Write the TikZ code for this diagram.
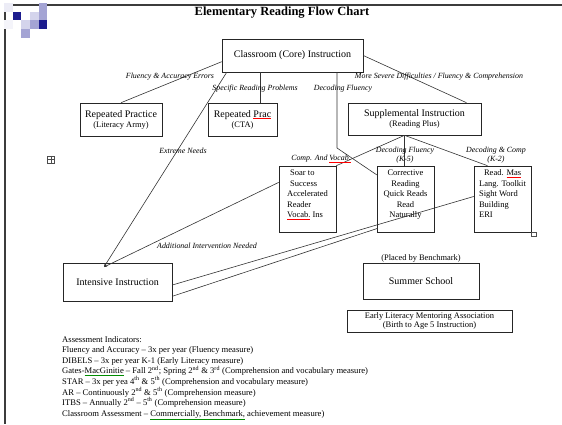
\documentclass[tikz,border=0pt]{standalone}
\usepackage{fontspec}
\setmainfont{Liberation Serif}
\usetikzlibrary{calc,arrows.meta}
\definecolor{sqdark}{HTML}{1C1C8E}
\definecolor{sqmid}{HTML}{A4A4D4}
\definecolor{sqlight}{HTML}{D4D4EC}
\definecolor{sqfaint}{HTML}{ECECF6}
\definecolor{framegray}{HTML}{3C3C3C}
\newcommand\redmark[1]{\textcolor{red}{$\underline{\hbox{\color{black}#1}}$}}
\newcommand\greenmark[1]{\textcolor{green!55!black}{$\underline{\hbox{\color{black}#1}}$}}
\newcommand\subsize{\fontsize{8.4}{9.5}\selectfont}
\begin{document}
\begin{tikzpicture}[x=1pt,y=-1pt,
  box/.style={draw=black!85, line width=0.6pt, inner sep=0pt, align=center,
    font=\fontsize{10}{11}\selectfont},
  stackbox/.style={draw=black!85, line width=0.6pt, inner sep=0pt,
    minimum width=57pt, minimum height=66pt},
  stacktext/.style={inner sep=0pt, font=\fontsize{8.5}{10.5}\selectfont, anchor=north},
  lbl/.style={inner sep=0pt, align=center, font=\fontsize{7.9}{8.6}\selectfont\itshape},
  link/.style={draw=black!80, line width=0.6pt},
  tip/.style={-{Stealth[length=3pt,width=2.5pt]}},
]
\useasboundingbox (0,0) rectangle (562,424);

% slide frame
\draw[framegray, line width=1.4pt] (562,5) -- (5,5) -- (5,424);

% corner squares
\fill[sqfaint] (4.2,3.2) rectangle (12.8,11.8);
\fill[sqfaint!60] (4.2,20.4) rectangle (12.8,29);
\fill[sqmid]   (38.6,3.2) rectangle (47.2,11.8);
\fill[sqdark]  (12.8,11.8) rectangle (21.4,20.4);
\fill[sqlight] (30,11.8) rectangle (38.6,20.4);
\fill[sqmid]   (38.6,11.8) rectangle (47.2,20.4);
\fill[sqlight] (21.4,20.4) rectangle (30,29);
\fill[sqmid]   (30,20.4) rectangle (38.6,29);
\fill[sqdark]  (38.6,20.4) rectangle (47.2,29);
\fill[sqmid]   (21.4,29) rectangle (30,37.6);

% title
\node[inner sep=0pt, font=\fontsize{12.5}{14}\selectfont\bfseries] (title) at (282,13) {Elementary Reading Flow Chart};

% main boxes
\node[box, minimum width=141pt, minimum height=33pt] (core) at (292.5,55.5) {Classroom (Core) Instruction};
\node[box, minimum width=82pt, minimum height=33pt] (rpla) at (121,119.5) {Repeated Practice\\[-1pt]{\subsize (Literacy Army)}};
\node[box, minimum width=69pt, minimum height=33pt] (rpcta) at (242.5,119.5) {Repeated \redmark{Prac}\\[-1pt]{\subsize (CTA)}};
\node[box, minimum width=133pt, minimum height=32pt] (supp) at (414.5,119) {Supplemental Instruction\\[-1pt]{\subsize (Reading Plus)}};

% program boxes
\node[stackbox] (soar) at (307.5,199) {};
\node[stacktext, align=left] (soarT) at ($(soar.north)+(0,4)$) {\hspace{3pt}Soar to\\\hspace{3pt}Success\\Accelerated\\Reader\\\redmark{Vocab.} Ins};
\node[stackbox] (corr) at (405.5,199) {};
\node[stacktext, align=center] (corrT) at ($(corr.north)+(0,4)$) {Corrective\\Reading\\Quick Reads\\Read\\Naturally};
\node[stackbox] (rmas) at (502.5,199) {};
\node[stacktext, align=left] (rmasT) at ($(rmas.north)+(0,4)$) {\hspace{5pt}Read. \redmark{Mas}\\Lang. Toolkit\\Sight Word\\Building\\ERI};

% lower boxes
\node[box, minimum width=109pt, minimum height=38pt] (intensive) at (117.5,282) {Intensive Instruction};
\node[box, minimum width=116pt, minimum height=36pt] (summer) at (421,281) {Summer School};
\node[inner sep=0pt, font=\fontsize{8.4}{9}\selectfont] (placed) at (421,258) {(Placed by Benchmark)};
\node[box, minimum width=165pt, minimum height=22pt, font=\fontsize{8.5}{9.5}\selectfont] (elma) at (429.5,321) {Early Literacy Mentoring Association\\(Birth to Age 5 Instruction)};

% small handles
\node[draw=black!70, line width=0.4pt, minimum size=7pt, inner sep=0pt] (handle) at (51,159.5) {};
\draw[black!70, line width=0.4pt] (handle.north) -- (handle.south) (handle.west) -- (handle.east);
\node[draw=black!70, fill=white, line width=0.4pt, minimum size=4.5pt, inner sep=0pt] (corner) at (533.5,234) {};

% connector ends
\coordinate (ii) at (104,267);
\coordinate (sj) at ($(supp.south)+(-10,0)$);
\coordinate (bend) at (337,148);

% connectors
\draw[link] (core.185) -- (rpla.north);
\draw[link, tip] ($(core.south west)+(5,0)$) -- (ii);
\draw[link] (core.south -| 260,0) -- (rpcta.north -| 260,0);
\draw[link] (core.south -| bend) -- (bend) -- (corr.140);
\draw[link] (core.east) -- ($(supp.north)+(52,0)$);
\draw[link] (sj) -- (soar.north east);
\draw[link] (sj) -- (sj |- corr.north);
\draw[link] (sj) -- ($(rmas.north)+(-15,0)$);
\draw[link, tip] (soar.150) -- (ii);
\draw[link] ($(intensive.east)+(0,3)$) -- (rmas.175);
\draw[link] ($(intensive.south east)+(0,-5)$) -- ($(corr.south west)+(1,-4)$);

% connector labels
\node[lbl] (l1) at (170,77) {Fluency \& Accuracy Errors};
\node[lbl] (l2) at (255,89) {Specific Reading Problems};
\node[lbl] (l3) at (343,89) {Decoding Fluency};
\node[lbl] (l4) at (439,77) {More Severe Difficulties / Fluency \& Comprehension};
\node[lbl] (l5) at (183,151) {Extreme Needs};
\node[lbl] (l6) at (321,159) {Comp. And \redmark{Vocab.}};
\node[lbl] (l7) at (405,155) {Decoding Fluency\\(K-5)};
\node[lbl] (l8) at (496,155) {Decoding \& Comp\\(K-2)};
\node[lbl] (l9) at (207,246) {Additional Intervention Needed};

% assessment notes
\node[inner sep=0pt, anchor=north west, align=left, font=\fontsize{8.6}{10.6}\selectfont] (notes) at (62,336) {%
Assessment Indicators:\\
Fluency and Accuracy -- 3x per year (Fluency measure)\\
DIBELS -- 3x per year K-1 (Early Literacy measure)\\
Gates-\greenmark{MacGinitie} -- Fall 2\textsuperscript{nd}; Spring 2\textsuperscript{nd} \& 3\textsuperscript{rd} (Comprehension and vocabulary measure)\\
STAR -- 3x per yea 4\textsuperscript{th} \& 5\textsuperscript{th} (Comprehension and vocabulary measure)\\
AR -- Continuously 2\textsuperscript{nd} \& 5\textsuperscript{th} (Comprehension measure)\\
ITBS -- Annually 2\textsuperscript{nd} -- 5\textsuperscript{th} (Comprehension measure)\\
Classroom Assessment -- \greenmark{Commercially, Benchmark,} achievement measure)};
\end{tikzpicture}
\end{document}
